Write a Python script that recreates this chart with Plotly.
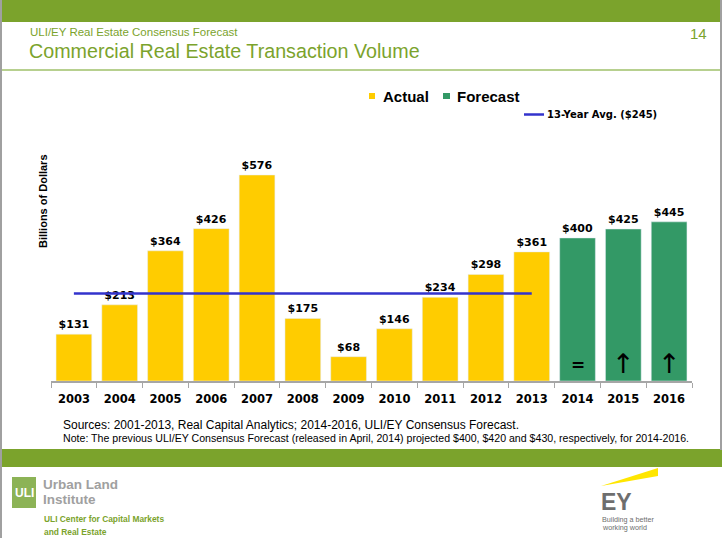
import plotly.graph_objects as go

# ---- data ----
years_actual = ['2003', '2004', '2005', '2006', '2007', '2008', '2009',
                '2010', '2011', '2012', '2013']
actual_values = [131, 213, 364, 426, 576, 175, 68, 146, 234, 298, 361]
years_forecast = ['2014', '2015', '2016']
forecast_values = [400, 425, 445]
forecast_change = ['=', '↑', '↑']
avg_value = 245
avg_label = '13-Year Avg. ($245)'
all_years = years_actual + years_forecast

W, H = 722, 538
PL, PR, PT, PB = 51, 692, 140, 381   # plot area in pixels
YMAX = (PB - PT) / ((PB - 175) / 576)

def px(X):
    return (X - PL) / (PR - PL)

def py(Y):
    return (PB - Y) / (PB - PT)

YELLOW = '#FFCC00'
GREEN = '#339966'
LIME = '#7BA32C'
AVG_BLUE = '#3333CC'
BAR_FONT = dict(family='DejaVu Sans, Verdana, sans-serif', size=11, color='black')
NARROW = 'Liberation Sans Narrow, Arial Narrow, Liberation Sans, sans-serif'

fig = go.Figure()
fig.add_trace(go.Bar(
    x=years_actual, y=actual_values, name='Actual', marker_color=YELLOW,
    texttemplate='<b>$%{y}</b>', textposition='outside', textfont=BAR_FONT,
    cliponaxis=False, showlegend=False))
fig.add_trace(go.Bar(
    x=years_forecast, y=forecast_values, name='Forecast', marker_color=GREEN,
    texttemplate='<b>$%{y}</b>', textposition='outside', textfont=BAR_FONT,
    cliponaxis=False, showlegend=False))
fig.add_trace(go.Scatter(
    x=[years_actual[0], years_actual[-1]], y=[avg_value, avg_value],
    mode='lines', line=dict(color=AVG_BLUE, width=2.5), name=avg_label,
    showlegend=False))

annotations = []
for yr, sym in zip(years_forecast, forecast_change):
    is_eq = sym == '='
    annotations.append(dict(
        x=all_years.index(yr), y=46 if is_eq else 48, xref='x', yref='y',
        text='<b>%s</b>' % sym if is_eq else sym,
        showarrow=False, xanchor='center', yanchor='middle',
        font=dict(family='DejaVu Sans', size=17 if is_eq else 27, color='black')))

def txt(X, Y, text, size, color='black', family='Liberation Sans, Arial, sans-serif',
        xanchor='left', yanchor='middle'):
    annotations.append(dict(x=px(X), y=py(Y), xref='paper', yref='paper', text=text,
                            showarrow=False, xanchor=xanchor, yanchor=yanchor,
                            font=dict(family=family, size=size, color=color)))

shapes = []
def rect(X0, Y0, X1, Y1, color, layer='below'):
    shapes.append(dict(type='rect', xref='paper', yref='paper', x0=px(X0), x1=px(X1),
                       y0=py(Y1), y1=py(Y0), fillcolor=color, line_width=0, layer=layer))

# header
txt(28, 32, 'ULI/EY Real Estate Consensus Forecast', 11.5, LIME)
txt(27, 51, 'Commercial Real Estate Transaction Volume', 19.7, LIME)
txt(709, 33, '14', 15, LIME, xanchor='right')
annotations.append(dict(x=px(43), y=py(201), xref='paper', yref='paper',
                        xanchor='center', yanchor='middle',
                        text='<b>Billions of Dollars</b>', textangle=-90, showarrow=False,
                        font=dict(family='Liberation Sans, Arial, sans-serif', size=11,
                                  color='black')))

# legend (drawn by hand to match the original layout)
rect(369, 93, 375, 99, YELLOW)
txt(381, 96, '<b>Actual</b>', 15)
rect(443, 93, 450, 99, GREEN)
txt(455, 96, '<b>Forecast</b>', 15)
shapes.append(dict(type='line', xref='paper', yref='paper', x0=px(524), x1=px(544),
                   y0=py(114.5), y1=py(114.5), line=dict(color=AVG_BLUE, width=2.5)))
txt(545, 114.5, '<b>%s</b>' % avg_label, 10,
    family='DejaVu Sans, Verdana, sans-serif')

# footnotes
txt(61, 425, 'Sources: 2001-2013, Real Capital Analytics; 2014-2016, ULI/EY Consensus Forecast.',
    12)
txt(61, 438, 'Note: The previous ULI/EY Consensus Forecast (released in April, 2014) projected '
    '$400, $420 and $430, respectively, for 2014-2016.', 10.6, family=NARROW)

# ULI logo
rect(12, 477, 36, 508, '#8CB356')
txt(24, 493, '<b>ULI</b>', 12, 'white', family=NARROW, xanchor='center')
txt(41, 484.5, '<b>Urban Land</b>', 13.5, '#A0A0A0', family=NARROW)
txt(41, 499.5, '<b>Institute</b>', 13.5, '#A0A0A0', family=NARROW)
txt(42, 519, '<b>ULI Center for Capital Markets</b>', 8.4, LIME, family=NARROW)
txt(42, 532, '<b>and Real Estate</b>', 8.4, LIME, family=NARROW)
# EY logo
shapes.append(dict(type='path', xref='paper', yref='paper',
                   path='M %f,%f L %f,%f L %f,%f Z' % (px(601), py(486), px(658), py(468),
                                                        px(658), py(476)),
                   fillcolor='#FFE600', line_width=0))
txt(599, 501.5, '<b>EY</b>', 23, '#6E6E6E', family=NARROW)
txt(600, 519, 'Building a better', 7.2, '#6E6E6E')
txt(600, 527, 'working world', 7.2, '#6E6E6E')

# page decorations
rect(0, 0, W, 22, LIME)
rect(0, 69, W, 71, '#B7D08F')
rect(0, 449, W, 467, LIME)
rect(0, 0, 2, H, '#A0A0A0')
rect(W - 2, 0, W, 450, '#A0A0A0')

fig.update_layout(
    width=W, height=H, autosize=False,
    margin=dict(l=PL, r=W - PR, t=PT, b=H - PB, pad=0),
    paper_bgcolor='white', plot_bgcolor='white',
    barmode='overlay', bargap=0.22, showlegend=False,
    font=dict(family='Liberation Sans, Arial, sans-serif', color='black'),
    xaxis=dict(type='category', categoryorder='array', categoryarray=all_years,
               range=[-0.5, len(all_years) - 0.5],
               showline=True, linecolor='#A6A6A6', linewidth=1.5,
               ticks='outside', tickson='boundaries', ticklen=5, tickcolor='#A6A6A6',
               ticklabelstandoff=6,
               tickfont=dict(family='DejaVu Sans, Verdana, sans-serif', size=11.5,
                             color='black'),
               tickprefix='<b>', ticksuffix='</b>', showgrid=False, fixedrange=True),
    yaxis=dict(range=[0, YMAX], showticklabels=False, showgrid=False, zeroline=False,
               showline=False, ticks='', fixedrange=True),
    annotations=annotations, shapes=shapes,
)

fig.write_html('out.html', config={'displayModeBar': False},
               post_script="document.body.style.margin='0';document.body.style.overflow='hidden';")
